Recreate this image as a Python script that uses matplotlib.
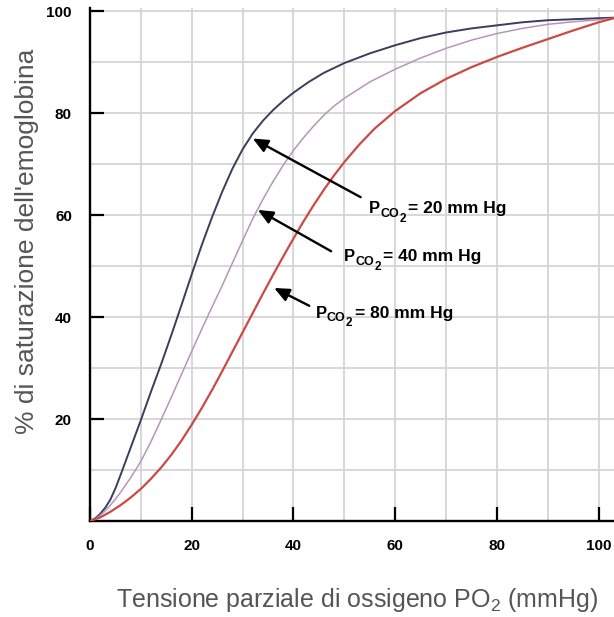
import matplotlib
matplotlib.use("Agg")
from matplotlib import pyplot as plt
from matplotlib.ticker import MultipleLocator

plt.rcParams['font.family'] = ['Liberation Sans', 'DejaVu Sans']
plt.rcParams['mathtext.fontset'] = 'custom'
plt.rcParams['mathtext.rm'] = 'Liberation Sans'
plt.rcParams['mathtext.bf'] = 'Liberation Sans:bold'

# curves (PO2 in mmHg, % saturation)
po2_20 = [0, 1, 2, 3, 4, 5, 6, 8, 10, 12, 14, 16, 18, 20, 22, 24, 26, 28, 30, 32,
          34, 36, 38, 40, 43, 46, 50, 55, 60, 65, 70, 75, 80, 85, 90, 95, 100, 103]
sat_20 = [0, 0.5, 1.4, 2.6, 4.2, 6.4, 9.0, 14.4, 19.8, 25.4, 30.8, 36.5, 42.4, 48.4,
          54.2, 59.6, 64.6, 69.1, 72.9, 76.0, 78.5, 80.6, 82.4, 84.0, 86.1, 87.9,
          89.8, 91.7, 93.3, 94.7, 95.8, 96.6, 97.2, 97.8, 98.2, 98.4, 98.6, 98.7]

po2_40 = [0, 1, 2, 3, 4, 5, 6, 8, 10, 12, 14, 16, 18, 20, 22, 24, 26, 28, 30, 32,
          34, 36, 38, 40, 42, 44, 46, 48, 50, 55, 60, 65, 70, 75, 80, 85, 90, 95,
          100, 103]
sat_40 = [0, 0.4, 1.1, 2.0, 3.1, 4.3, 5.6, 8.5, 11.7, 15.6, 19.9, 24.3, 28.8, 33.3,
          37.7, 42.0, 46.2, 50.6, 55.0, 59.3, 63.1, 66.6, 69.8, 72.7, 75.2, 77.5,
          79.6, 81.4, 82.9, 86.1, 88.6, 90.8, 92.7, 94.3, 95.6, 96.6, 97.4, 97.9,
          98.3, 98.6]

po2_80 = [0, 2, 4, 6, 8, 10, 12, 14, 16, 18, 20, 22, 24, 26, 28, 30, 32, 34, 36, 38,
          40, 42, 44, 46, 48, 50, 53, 56, 60, 65, 70, 75, 80, 85, 90, 95, 100, 103]
sat_80 = [0, 0.7, 1.8, 3.1, 4.6, 6.3, 8.3, 10.5, 13.0, 15.8, 18.9, 22.2, 25.7, 29.4,
          33.2, 37.0, 40.8, 44.6, 48.3, 51.9, 55.4, 58.8, 62.0, 65.0, 67.8, 70.4,
          73.9, 77.0, 80.4, 83.9, 86.7, 89.0, 91.0, 92.8, 94.5, 96.2, 97.8, 98.6]

labels = ["20", "40", "80"]
tips = [(32.0, 75.0), (33.0, 61.0), (36.2, 45.7)]
tails = [(53.2, 63.5), (47.4, 52.9), (43.1, 42.2)]
text_pos = [(54.9, 60.4), (50.0, 51.0), (44.4, 39.9)]

fig = plt.figure(figsize=(6.14, 6.17), dpi=100)
ax = fig.add_axes([90 / 614, 96 / 617, 524 / 614, 513 / 617])

ax.set_xlim(0, 103)
ax.set_ylim(0, 100.6)

ax.xaxis.set_major_locator(MultipleLocator(20))
ax.yaxis.set_major_locator(MultipleLocator(20))
ax.xaxis.set_minor_locator(MultipleLocator(10))
ax.yaxis.set_minor_locator(MultipleLocator(10))
ax.grid(which='both', color='#d4d4d4', linewidth=1.3, zorder=0)
ax.set_axisbelow(True)

ax.plot(po2_20, sat_20, color='#3b3d5c', linewidth=1.4, zorder=3)
ax.plot(po2_40, sat_40, color='#b894bb', linewidth=1.1, zorder=3)
ax.plot(po2_80, sat_80, color='#cc4a44', linewidth=1.6, zorder=3)


def pco2_label(x, y, value):
    kw = dict(xy=(x, y), xycoords='data', textcoords='offset points',
              fontweight='bold', ha='left', va='baseline', zorder=5)
    ax.annotate('P', xytext=(0, 0), fontsize=12, **kw)
    ax.annotate('CO', xytext=(8.0, -2.6), fontsize=9, **kw)
    ax.annotate('2', xytext=(21.6, -6.2), fontsize=8.5, **kw)
    ax.annotate('= ' + value + ' mm Hg', xytext=(28.0, 0), fontsize=12.5, **kw)


for lab, tip, tail, pos in zip(labels, tips, tails, text_pos):
    ax.annotate('', xy=tip, xytext=tail,
                arrowprops=dict(arrowstyle='-|>,head_length=0.9,head_width=0.4',
                                color='black', linewidth=1.7, shrinkA=0, shrinkB=0),
                zorder=4)
    pco2_label(pos[0], pos[1], lab)

for side in ['top', 'right']:
    ax.spines[side].set_visible(False)
for side in ['left', 'bottom']:
    ax.spines[side].set_linewidth(1.7)
    ax.spines[side].set_color('black')

ax.tick_params(which='major', direction='in', length=10, width=1.6,
               labelsize=11, pad=13)
ax.tick_params(which='minor', length=0)
ax.set_xticks([0, 20, 40, 60, 80, 100])
ax.set_yticks([20, 40, 60, 80, 100])
for t in ax.get_xticklabels() + ax.get_yticklabels():
    t.set_fontweight('bold')

fig.text(357 / 614, 10 / 617, 'Tensione parziale di ossigeno PO$_2$ (mmHg)',
         fontsize=18, color='#555555', ha='center', va='baseline')
fig.text(27 / 614, 1 - 241 / 617, "% di saturazione dell'emoglobina",
         fontsize=19, color='#555555', ha='center', va='center', rotation=90)

fig.savefig('out.png', dpi=100)
